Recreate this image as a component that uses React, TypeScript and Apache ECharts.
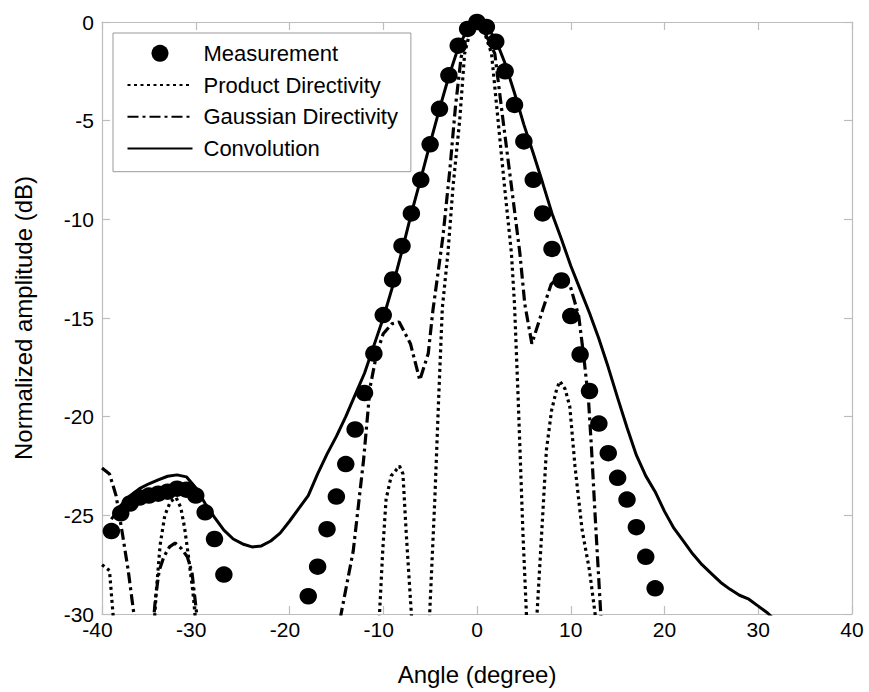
import React, { useEffect, useRef } from "react";
import * as echarts from "echarts";

const FONT = "'Liberation Sans', Arial, Helvetica, sans-serif";
const GRAY = "#bdbdbd";

// X tick values / Y tick values are produced by the axes (min/max/interval)
const xTickInterval = 10;
const yTickInterval = 5;

// Measurement (dots)
const measurementAngles = [
  -39, -38, -37, -36, -35, -34, -33, -32, -31, -30, -29, -28, -27,
  -18, -17, -16, -15, -14, -13, -12, -11, -10, -9, -8, -7, -6, -5, -4, -3, -2, -1, 0,
  1, 2, 3, 4, 5, 6, 7, 8, 9, 10, 11, 12, 13, 14, 15, 16, 17, 18, 19,
];
const measurementValues = [
  -25.8, -24.9, -24.4, -24.1, -24.0, -23.9, -23.8, -23.65, -23.7, -24.0, -24.85, -26.2, -28.0,
  -29.1, -27.6, -25.7, -24.05, -22.4, -20.65, -18.8, -16.8, -14.85, -13.05, -11.35, -9.7, -8.0, -6.2, -4.4, -2.7, -1.2, -0.35, 0,
  -0.25, -1.0, -2.5, -4.2, -6.05, -8.0, -9.7, -11.5, -13.1, -14.9, -16.85, -18.7, -20.35, -21.85, -23.1, -24.2, -25.6, -27.1, -28.7,
];

// Product directivity (dotted)
const productAngles = [
  -40, -39.2, -38.4, -36.5, -34.7, -34.2, -33.8, -33.3, -32.7, -32.1, -31.6, -31.2, -30.8, -30.3, -29.7,
  -27, -20, -13, -10.8, -10.4, -10.05, -9.7, -9.15, -8.27, -7.9, -7.55, -7.0, -6.5, -5.6, -5.05,
  -4.5, -4.1, -3.7, -3.1, -2.56, -1.85, -1.32, -0.7, 0, 0.7, 1.55, 2.25, 2.95, 3.67, 4.0, 4.4, 4.9, 5.27,
  5.8, 6.4, 6.9, 7.4, 7.95, 8.5, 8.85, 9.4, 9.9, 10.45, 11.2, 12.0, 12.6, 13.5, 20,
];
const productValues = [
  -27.5, -27.8, -32.5, -42, -32.5, -28.8, -26.5, -25.0, -24.3, -24.1, -24.6, -25.6, -27.0, -28.9, -32,
  -42, -45, -42, -33, -30, -26.75, -24.2, -23.0, -22.5, -22.9, -25.9, -30, -36, -36, -30,
  -24.2, -19.2, -14.5, -11.7, -8.35, -5.0, -1.6, -0.4, 0, -0.4, -1.6, -5.0, -8.4, -11.7, -14.3, -19.2, -25.9, -30,
  -36, -30, -25.9, -21.7, -19.7, -18.6, -18.2, -18.6, -19.5, -22.5, -25.7, -27.8, -30, -36, -45,
];

// Gaussian directivity (dash-dot)
const gaussianAngles = [
  -40, -39.2, -38.5, -37.8, -37.2, -36.6, -36.0, -35.4, -34.8, -34.3, -33.9, -33.4, -32.8, -32.2, -31.5, -30.9, -30.4, -29.9, -29.3,
  -25, -18, -15.3, -14.5, -13.2, -12.1, -11.4, -10.7, -10.0, -9.1, -8.3, -7.1, -6.1, -5.2, -4.7, -3.64, -2.9, -2.3, -1.7, -1.0, -0.2,
  0.6, 1.9, 2.78, 3.68, 4.57, 5.1, 5.85, 7.0, 7.9, 8.9, 9.9, 10.85, 11.4, 11.9, 12.2, 12.6, 13.2, 13.8, 20,
];
const gaussianValues = [
  -22.6, -22.9, -24.0, -26.0, -27.8, -30, -33, -35, -32, -29.2, -27.8, -27.1, -26.6, -26.4, -26.7, -27.1, -27.9, -30, -33,
  -40, -40, -33, -30, -26.8, -22.2, -18.5, -16.8, -15.8, -15.3, -15.2, -16.3, -18.15, -16.8, -14.6, -10.9, -7.5, -4.3, -1.8, -0.5, 0,
  -0.3, -1.6, -5.0, -8.35, -11.7, -14.3, -16.3, -14.6, -13.3, -12.8, -13.3, -14.9, -17.0, -19.2, -21.5, -25.0, -30, -34, -42,
];

// Convolution (solid)
const convolutionAngles = [
  -39, -38, -37, -36, -35, -34, -33, -32, -31, -30,
  -29, -28, -27, -26, -25, -24, -23, -22, -21, -20,
  -19, -18, -17, -16, -15, -14, -13, -12, -11, -10,
  -9, -8, -7, -6, -5, -4, -3, -2, -1, 0,
  1, 2, 3, 4, 5, 6, 7, 8, 9, 10,
  11, 12, 13, 14, 15, 16, 17, 18, 19, 20,
  21, 22, 23, 24, 25, 26, 27, 28, 29, 30,
  31, 32,
];
const convolutionValues = [
  -25.2, -24.5, -24.0, -23.65, -23.4, -23.2, -23.02, -22.95, -23.05, -23.6,
  -24.4, -25.1, -25.75, -26.2, -26.45, -26.6, -26.55, -26.3, -25.9, -25.3,
  -24.65, -24.0, -22.9, -21.9, -21.0, -20.0, -18.9, -17.8, -16.4, -15.0,
  -13.4, -11.6, -9.7, -7.95, -6.15, -4.4, -2.75, -1.3, -0.35, 0,
  -0.2, -0.9, -2.1, -3.6, -5.2, -6.65, -8.15, -9.7, -11.0, -12.35,
  -13.55, -14.75, -16.05, -17.5, -19.05, -20.55, -21.95, -23.0, -23.8, -24.8,
  -25.65, -26.3, -26.95, -27.5, -27.95, -28.4, -28.75, -29.05, -29.25, -29.6,
  -29.95, -30.4,
];

const seriesNames = ["Measurement", "Product Directivity", "Gaussian Directivity", "Convolution"];

const pairs = (xs: number[], ys: number[]) => xs.map((x, i) => [x, ys[i]]);

export default function App() {
  const ref = useRef<HTMLDivElement>(null);

  useEffect(() => {
    if (!ref.current) return;
    const chart = echarts.init(ref.current, undefined, { renderer: "svg" });

    const frameAxis = {
      axisLine: { show: true, onZero: false, lineStyle: { color: GRAY, width: 1.2 } },
      axisTick: { show: true, inside: true, length: 8, lineStyle: { color: GRAY, width: 1.2 } },
      splitLine: { show: false },
    };

    const option: any = {
      animation: false,
      backgroundColor: "#ffffff",
      textStyle: { fontFamily: FONT, color: "#000" },
      grid: { left: 102, right: 17, top: 22, bottom: 78, containLabel: false },
      legend: {
        orient: "vertical",
        left: 113,
        top: 33,
        data: [
          { name: seriesNames[0] },
          { name: seriesNames[1], itemStyle: { opacity: 0 } },
          { name: seriesNames[2], itemStyle: { opacity: 0 } },
          { name: seriesNames[3], itemStyle: { opacity: 0 } },
        ],
        itemWidth: 65,
        itemHeight: 17,
        itemGap: 9.7,
        backgroundColor: "#ffffff",
        borderColor: "#9a9a9a",
        borderWidth: 1,
        borderRadius: 0,
        padding: [9.3, 13, 12.3, 13.5],
        selectedMode: false,
        textStyle: { fontSize: 22, color: "#000", fontFamily: FONT, padding: [0, 0, 0, 6] },
      },
      xAxis: [
        {
          type: "value",
          position: "bottom",
          min: -40,
          max: 40,
          interval: xTickInterval,
          ...frameAxis,
          axisLabel: {
            color: "#000",
            fontSize: 21,
            lineHeight: 17,
            fontFamily: FONT,
            margin: 7,
            formatter: (v: number) => (v < 0 ? "{n|" + v + "}" : String(v)),
            rich: {
              n: { fontSize: 21, lineHeight: 17, fontFamily: FONT, color: "#000", padding: [0, 9, 0, 0] },
            },
          },
          name: "Angle (degree)",
          nameLocation: "middle",
          nameGap: 48,
          nameTextStyle: { fontSize: 24, color: "#000", fontFamily: FONT },
        },
        {
          type: "value",
          position: "top",
          min: -40,
          max: 40,
          interval: xTickInterval,
          ...frameAxis,
          axisLabel: { show: false },
        },
      ],
      yAxis: [
        {
          type: "value",
          position: "left",
          min: -30,
          max: 0,
          interval: yTickInterval,
          ...frameAxis,
          axisLabel: { color: "#000", fontSize: 21, lineHeight: 13, fontFamily: FONT, margin: 8 },
          name: "Normalized amplitude (dB)",
          nameLocation: "middle",
          nameGap: 67,
          nameTextStyle: { fontSize: 24, color: "#000", fontFamily: FONT },
        },
        {
          type: "value",
          position: "right",
          min: -30,
          max: 0,
          interval: yTickInterval,
          ...frameAxis,
          axisLabel: { show: false },
        },
      ],
      series: [
        {
          name: seriesNames[1],
          type: "line",
          data: pairs(productAngles, productValues),
          symbol: "none",
          showSymbol: false,
          clip: true,
          z: 2,
          itemStyle: { color: "#000" },
          lineStyle: { color: "#000", width: 3.2, type: [3, 3.5] },
        },
        {
          name: seriesNames[2],
          type: "line",
          data: pairs(gaussianAngles, gaussianValues),
          symbol: "none",
          showSymbol: false,
          clip: true,
          z: 2,
          itemStyle: { color: "#000" },
          lineStyle: { color: "#000", width: 3.2, type: [11, 4, 3, 4] },
        },
        {
          name: seriesNames[3],
          type: "line",
          data: pairs(convolutionAngles, convolutionValues),
          symbol: "none",
          showSymbol: false,
          clip: true,
          z: 2,
          itemStyle: { color: "#000" },
          lineStyle: { color: "#000", width: 3, type: "solid" },
        },
        {
          name: seriesNames[0],
          type: "scatter",
          data: pairs(measurementAngles, measurementValues),
          symbol: "circle",
          symbolSize: [17.5, 16.5],
          clip: false,
          z: 3,
          itemStyle: { color: "#000", opacity: 1 },
        },
      ],
    };

    chart.setOption(option);
    return () => {
      chart.dispose();
    };
  }, []);

  return (
    <div
      ref={ref}
      style={{ position: "fixed", left: 0, top: 0, width: 869, height: 692, background: "#fff" }}
    />
  );
}
